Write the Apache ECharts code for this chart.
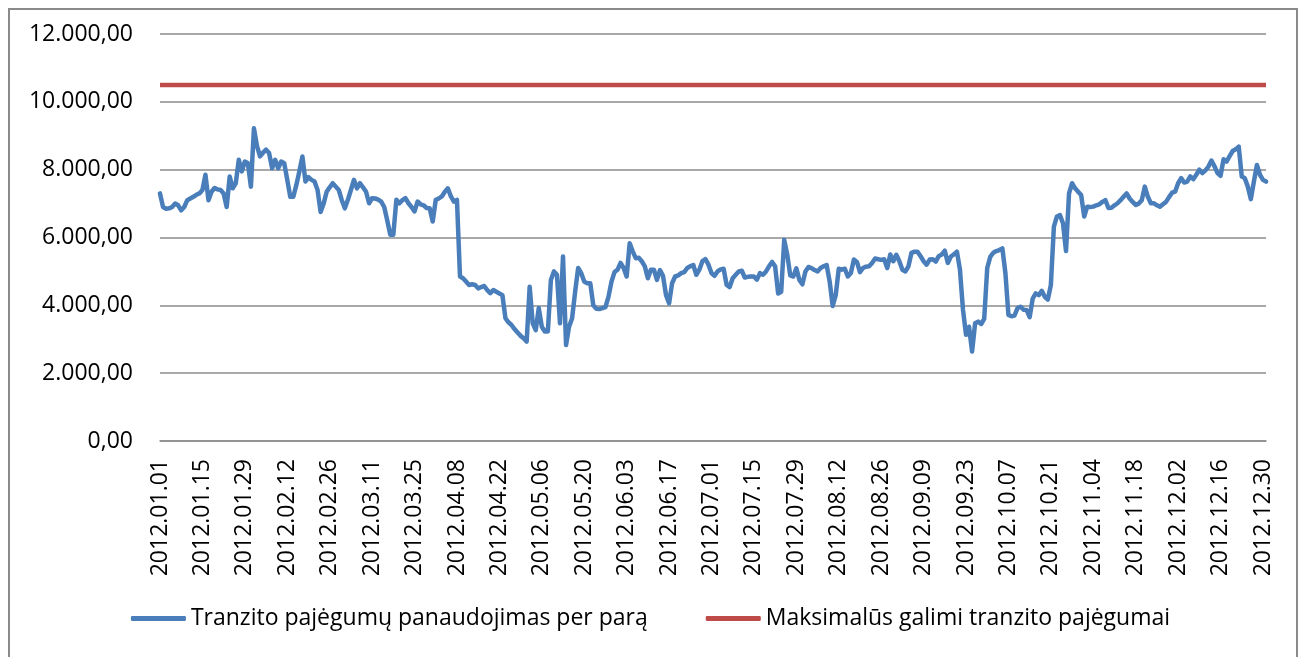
<!DOCTYPE html>
<html>
<head>
<meta charset="utf-8">
<script src="https://cdn.jsdelivr.net/npm/echarts@6/dist/echarts.min.js"></script>
<style>
  html, body { margin: 0; padding: 0; background: #fff; }
  #chart { position: absolute; left: 0; top: 0; width: 1301px; height: 657px; }
  #frame { position: absolute; left: 8px; top: 8px; width: 1286px; height: 700px;
           border: 2px solid #8a8a8a; pointer-events: none; }
</style>
</head>
<body>
<div id="chart"></div>
<div id="frame"></div>
<script>
// daily transit capacity usage, 2012.01.01 .. 2012.12.31
var usage = [
  7300, 6900, 6850, 6860, 6900, 7000, 6950, 6800, 6900, 7100,
  7150, 7200, 7260, 7300, 7400, 7850, 7100, 7350, 7460, 7420,
  7400, 7300, 6900, 7800, 7450, 7600, 8290, 7950, 8240, 8190,
  7500, 9220, 8700, 8390, 8500, 8590, 8490, 8040, 8290, 8040,
  8240, 8190, 7700, 7200, 7200, 7550, 7950, 8390, 7650, 7780,
  7700, 7650, 7400, 6750, 7000, 7350, 7480, 7600, 7500, 7400,
  7100, 6860, 7110, 7400, 7700, 7450, 7600, 7480, 7350, 7010,
  7160, 7150, 7120, 7060, 6900, 6500, 6080, 6080, 7110, 7010,
  7100, 7160, 7010, 6900, 6770, 7060, 6980, 6950, 6870, 6860,
  6470, 7110, 7150, 7210, 7350, 7450, 7210, 7060, 7110, 4850,
  4800, 4700, 4600, 4620, 4600, 4500, 4540, 4570, 4450, 4360,
  4450, 4400, 4350, 4300, 3620, 3500, 3420, 3300, 3200, 3100,
  3030, 2930, 4550, 3470, 3270, 3920, 3370, 3230, 3230, 4750,
  5000, 4900, 3470, 5440, 2830, 3370, 3620, 4400, 5100, 4950,
  4700, 4650, 4650, 4000, 3900, 3890, 3920, 3950, 4250, 4700,
  4980, 5050, 5250, 5100, 4850, 5830, 5590, 5390, 5400, 5300,
  5150, 4800, 5050, 5050, 4750, 5040, 4870, 4300, 4060, 4650,
  4850, 4880, 4950, 4980, 5100, 5150, 5190, 4900, 5050, 5300,
  5360, 5200, 4950, 4870, 5000, 5060, 5080, 4600, 4540, 4800,
  4900, 5000, 5020, 4820, 4840, 4850, 4850, 4760, 4950, 4900,
  5000, 5150, 5280, 5150, 4350, 4400, 5930, 5500, 4880, 4850,
  5090, 4750, 4620, 5000, 5130, 5100, 5040, 5000, 5100, 5150,
  5190, 4700, 3980, 4300, 5080, 5050, 5080, 4850, 4950, 5350,
  5280, 4980, 5100, 5140, 5150, 5250, 5380, 5360, 5340, 5360,
  5100, 5500, 5300, 5490, 5300, 5050, 5000, 5150, 5550, 5580,
  5580, 5450, 5300, 5200, 5350, 5360, 5290, 5450, 5500, 5610,
  5250, 5440, 5500, 5580, 5050, 3870, 3130, 3370, 2640, 3470,
  3520, 3450, 3600, 5100, 5430, 5550, 5600, 5630, 5680, 4950,
  3720, 3680, 3700, 3920, 3960, 3870, 3860, 3650, 4200, 4350,
  4300, 4430, 4250, 4170, 4600, 6320, 6620, 6660, 6420, 5600,
  7300, 7600, 7450, 7350, 7250, 6620, 6910, 6900, 6910, 6950,
  6980, 7050, 7100, 6870, 6880, 6950, 7010, 7100, 7200, 7300,
  7150, 7050, 6960, 7000, 7100, 7500, 7200, 7010, 7010, 6950,
  6910, 6980, 7050, 7190, 7320, 7350, 7600, 7750, 7620, 7650,
  7800, 7720, 7850, 8000, 7900, 7980, 8090, 8270, 8100, 7900,
  7820, 8310, 8240, 8400, 8550, 8600, 8680, 7800, 7750, 7500,
  7130, 7650, 8140, 7850, 7700, 7650
];
var maxCapacity = 10500;
var yTicks = [0, 2000, 4000, 6000, 8000, 10000, 12000];
var seriesNames = ['Tranzito pajėgumų panaudojimas per parą', 'Maksimalūs galimi tranzito pajėgumai'];

// category labels: one per day of 2012
var days = [];
for (var d = new Date(2012, 0, 1); d.getFullYear() === 2012; d.setDate(d.getDate() + 1)) {
  var m = d.getMonth() + 1, dd = d.getDate();
  days.push('2012.' + (m < 10 ? '0' : '') + m + '.' + (dd < 10 ? '0' : '') + dd);
}

function fmt(v) {
  var parts = v.toFixed(2).split('.');
  return parts[0].replace(/\B(?=(\d{3})+(?!\d))/g, '.') + ',' + parts[1];
}

var font = '"Open Sans", "Noto Sans", sans-serif';
var gridColor = '#8c8c8c';

var chart = echarts.init(document.getElementById('chart'), null, { renderer: 'canvas' });
chart.setOption({
  animation: false,
  textStyle: { fontFamily: font },
  grid: { left: 160, right: 35, top: 34, bottom: 216, containLabel: false },
  legend: {
    data: seriesNames,
    bottom: 22,
    left: 'center',
    icon: 'roundRect',
    itemWidth: 55,
    itemHeight: 5,
    itemGap: 58,
    textStyle: { color: '#000', fontSize: 23, fontFamily: font }
  },
  xAxis: {
    type: 'category',
    data: days,
    boundaryGap: false,
    axisLine: { lineStyle: { color: gridColor, width: 1.5 } },
    axisTick: { show: false },
    axisLabel: { color: '#000', fontSize: 23, rotate: 90, interval: 13, margin: 18, fontFamily: font },
    splitLine: { show: false }
  },
  yAxis: {
    type: 'value',
    min: yTicks[0],
    max: yTicks[yTicks.length - 1],
    interval: yTicks[1] - yTicks[0],
    axisLine: { show: false },
    axisTick: { show: false },
    axisLabel: { color: '#000', fontSize: 23, margin: 27, formatter: fmt, fontFamily: font },
    splitLine: { lineStyle: { color: gridColor, width: 1.5 } }
  },
  series: [{
    name: seriesNames[0],
    type: 'line',
    data: usage,
    showSymbol: false,
    symbol: 'none',
    color: '#4a7ebb',
    lineStyle: { color: '#4a7ebb', width: 4.5, cap: 'round', join: 'round' }
  }, {
    name: seriesNames[1],
    type: 'line',
    data: [[days[0], maxCapacity], [days[days.length - 1], maxCapacity]],
    showSymbol: false,
    symbol: 'none',
    color: '#be4b48',
    lineStyle: { color: '#be4b48', width: 4.5 }
  }]
});
window.addEventListener('resize', function() { chart.resize(); });
</script>
</body>
</html>
